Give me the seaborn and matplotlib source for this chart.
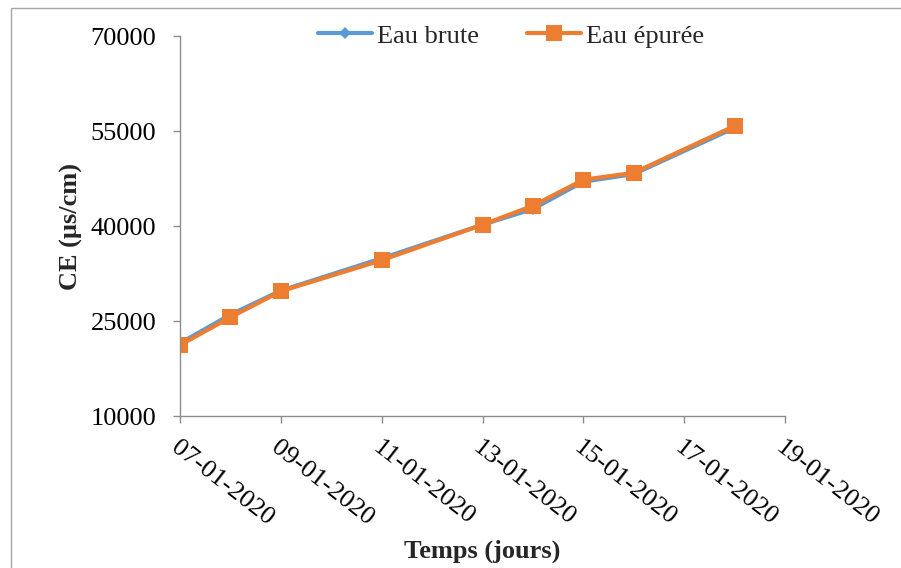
import matplotlib
matplotlib.use("Agg")
import matplotlib.pyplot as plt
import matplotlib.dates as mdates
import matplotlib.patches as mpatches
import pandas as pd
import seaborn as sns

# Measurement dates and electrical conductivity (µs/cm)
dates = ["2020-01-07", "2020-01-08", "2020-01-09", "2020-01-11", "2020-01-13",
         "2020-01-14", "2020-01-15", "2020-01-16", "2020-01-18"]
eau_brute = [21500, 26000, 29800, 34900, 40200, 42700, 47000, 48200, 55500]
eau_epuree = [21200, 25600, 29700, 34600, 40200, 43200, 47300, 48400, 55800]
series_names = ["Eau brute", "Eau épurée"]
y_ticks = [10000, 25000, 40000, 55000, 70000]

df = pd.DataFrame({
    "date": pd.to_datetime(dates).tolist() * 2,
    "CE": eau_brute + eau_epuree,
    "serie": [series_names[0]] * len(dates) + [series_names[1]] * len(dates),
})

sns.set_theme(style="white")
plt.rcParams["font.family"] = ["Liberation Serif", "DejaVu Serif"]

FS = 19

fig = plt.figure(figsize=(9.01, 5.68), dpi=100)
ax = fig.add_axes([0.1998, 0.2676, 0.6715, 0.669])

# outer chart frame
fig.patches.append(mpatches.Rectangle((11 / 901, -0.1), 1.2, 1 - 8 / 568 + 0.1,
                                      transform=fig.transFigure, fill=False,
                                      edgecolor="#a6a6a6", linewidth=1.0, zorder=0))

palette = {series_names[0]: "#5b9bd5", series_names[1]: "#ed7d31"}
markers = {series_names[0]: "D", series_names[1]: "s"}
sizes = {series_names[0]: 6, series_names[1]: 11}

for name in series_names:
    sub = df[df["serie"] == name]
    sns.lineplot(data=sub, x="date", y="CE", ax=ax, color=palette[name],
                 marker=markers[name], markersize=sizes[name],
                 markeredgewidth=0, linewidth=3, label=name)

ax.set_xlim(pd.Timestamp("2020-01-07"), pd.Timestamp("2020-01-19"))
ax.set_ylim(10000, 70000)
ax.set_yticks(y_ticks)
ax.set_yticklabels([str(v) for v in y_ticks])
ax.xaxis.set_major_locator(mdates.DayLocator(interval=2))
ax.xaxis.set_major_formatter(mdates.DateFormatter("%d-%m-%Y"))

for side in ["top", "right"]:
    ax.spines[side].set_visible(False)
for side in ["left", "bottom"]:
    ax.spines[side].set_color("#8c8c8c")
    ax.spines[side].set_linewidth(1.0)

ax.tick_params(axis="both", which="major", length=5, width=1.0, color="#8c8c8c",
               labelsize=FS, labelcolor="black", direction="out",
               bottom=True, left=True)
ax.tick_params(axis="y", pad=12)
ax.tick_params(axis="x", pad=10)
for lbl in ax.get_xticklabels():
    lbl.set_rotation(-38)
    lbl.set_ha("left")
    lbl.set_va("top")
    lbl.set_rotation_mode("anchor")

ax.set_xlabel("Temps (jours)", fontsize=FS, fontweight="bold")
ax.set_ylabel("CE (µs/cm)", fontsize=FS, fontweight="bold")
ax.xaxis.set_label_coords(0.50, -0.325)
ax.yaxis.set_label_coords(-0.16, 0.5)

leg = ax.legend(loc="upper left", bbox_to_anchor=(0.228, 1.031), ncol=2,
                frameon=False, fontsize=FS, handlelength=2.05, handletextpad=0.2,
                columnspacing=1.8, borderaxespad=0, borderpad=0)

fig.savefig("out.png", dpi=100, facecolor="white")
